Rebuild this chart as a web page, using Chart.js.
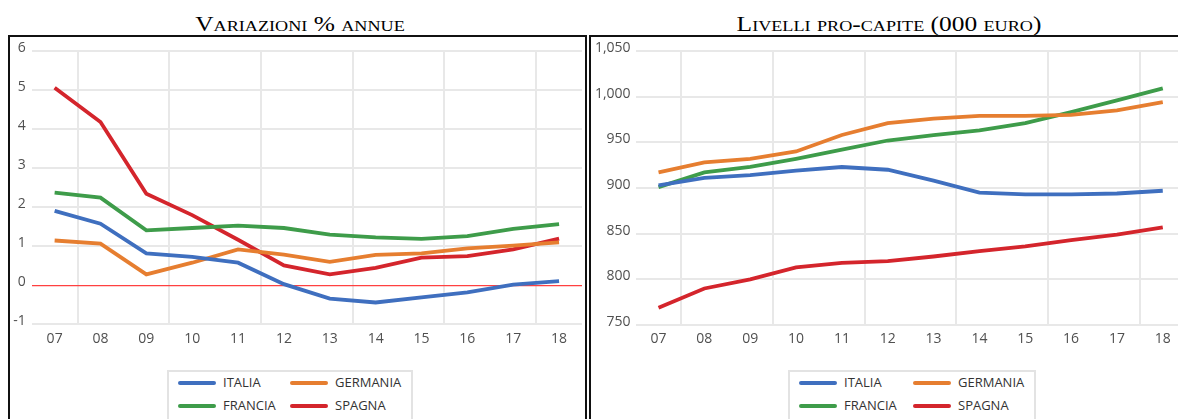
<!DOCTYPE html>
<html lang="it">
<head>
<meta charset="utf-8">
<title>Reddito disponibile: Italia, Germania, Francia, Spagna</title>
<script src="https://cdn.jsdelivr.net/npm/chart.js@4.4.1/dist/chart.umd.min.js"></script>
<style>
  html, body { margin: 0; padding: 0; background: #ffffff; overflow: hidden; width: 1178px; height: 419px; position: relative; }
  .titolo { position: absolute; top: 12px; font-family: "Liberation Serif", "Times New Roman", serif; font-variant: small-caps; font-size: 21px; color: #000; white-space: nowrap; transform: translateX(-50%) scaleX(1.21); }
  .pannello { position: absolute; top: 35px; border: 2px solid #111; box-sizing: border-box; }
  canvas { position: absolute; }
  .legenda { position: absolute; top: 370px; height: 60px; border: 2px solid #e3e3e3; box-sizing: border-box; background: #fff; }
  .voce { position: absolute; font-family: "Open Sans", sans-serif; font-size: 13px; color: #333; line-height: 14px; white-space: nowrap; }
  .campione { position: absolute; height: 4px; border-radius: 2px; }
</style>
</head>
<body>
<div class="titolo" style="left:300px">Variazioni % annue</div>
<div class="titolo" style="left:889px">Livelli pro-capite (000 euro)</div>
<div class="pannello" style="left:8px; width:579px; height:400px"></div>
<div class="pannello" style="left:589px; width:620px; height:400px"></div>
<canvas id="graficoVariazioni" width="574" height="382" style="left:10px; top:37px"></canvas>
<canvas id="graficoLivelli" width="620" height="382" style="left:591px; top:37px"></canvas>
<div id="legendaSinistra" class="legenda" style="left:167px; width:246px"></div>
<div id="legendaDestra" class="legenda" style="left:788px; width:248px"></div>

<script>
// Anni (2007-2018)
const anni = ['07', '08', '09', '10', '11', '12', '13', '14', '15', '16', '17', '18'];

const paesi = ['ITALIA', 'GERMANIA', 'FRANCIA', 'SPAGNA'];
const colori = ['#3f6fbf', '#e67e30', '#3e9c4a', '#d4252c'];

// Variazioni % annue
const variazioniItalia   = [1.91, 1.58, 0.82, 0.73, 0.58, 0.03, -0.34, -0.44, -0.31, -0.18, 0.02, 0.11];
const variazioniGermania = [1.15, 1.07, 0.28, 0.58, 0.92, 0.79, 0.60, 0.78, 0.82, 0.95, 1.02, 1.10];
const variazioniFrancia  = [2.38, 2.25, 1.41, 1.47, 1.53, 1.47, 1.30, 1.23, 1.19, 1.26, 1.45, 1.57];
const variazioniSpagna   = [5.07, 4.19, 2.35, 1.80, 1.17, 0.51, 0.28, 0.45, 0.71, 0.75, 0.92, 1.20];

// Livelli pro-capite (000 euro)
const livelliItalia   = [903, 911, 914, 919, 923, 920, 908, 895, 893, 893, 894, 897];
const livelliGermania = [917, 928, 932, 940, 958, 971, 976, 979, 979, 980, 985, 994];
const livelliFrancia  = [901, 917, 923, 932, 942, 952, 958, 963, 971, 983, 996, 1009];
const livelliSpagna   = [769, 790, 800, 813, 818, 820, 825, 831, 836, 843, 849, 857];

const fontTick = { family: '"Open Sans", sans-serif', size: 14 };
const coloreTick = '#505050';
const coloreGriglia = '#e8e8e8';

function serie(valori) {
  return valori.map((v, i) => ({
    label: paesi[i],
    data: v,
    borderColor: colori[i],
    backgroundColor: colori[i],
    borderWidth: 3.8,
    pointRadius: 0,
    pointHoverRadius: 0,
    tension: 0,
    fill: false
  }));
}

function creaGrafico(id, valori, asseY, larghezzaY, padding) {
  return new Chart(document.getElementById(id), {
    type: 'line',
    data: { labels: anni, datasets: serie(valori) },
    options: {
      responsive: false,
      animation: false,
      devicePixelRatio: 1,
      layout: { padding: padding },
      plugins: { legend: { display: false }, tooltip: { enabled: false } },
      scales: {
        x: {
          offset: true,
          grid: {
            offset: true,
            drawTicks: false,
            lineWidth: 2,
            // una linea verticale ogni due anni
            color: ctx => (ctx.index % 2 === 1 && ctx.index < anni.length) ? coloreGriglia : 'rgba(0,0,0,0)'
          },
          border: { display: false },
          ticks: { font: fontTick, color: coloreTick, padding: 6, maxRotation: 0, autoSkip: false },
          afterFit: s => { s.height = 40; }
        },
        y: Object.assign({
          grid: { drawTicks: false, lineWidth: 2, color: coloreGriglia },
          border: { display: false },
          afterFit: s => { s.width = larghezzaY; }
        }, asseY)
      }
    }
  });
}

creaGrafico('graficoVariazioni',
  [variazioniItalia, variazioniGermania, variazioniFrancia, variazioniSpagna],
  {
    min: -1, max: 6,
    grid: {
      drawTicks: false,
      lineWidth: ctx => ctx.tick && ctx.tick.value === 0 ? 1.3 : 2,
      color: ctx => ctx.tick && ctx.tick.value === 0 ? '#ff4040' : coloreGriglia
    },
    ticks: { stepSize: 1, font: fontTick, color: coloreTick, padding: 6, labelOffset: -3 }
  },
  21.7, { left: 0, right: 2, top: 14, bottom: 54.7 });

creaGrafico('graficoLivelli',
  [livelliItalia, livelliGermania, livelliFrancia, livelliSpagna],
  {
    min: 750, max: 1050,
    ticks: {
      stepSize: 50, font: fontTick, color: coloreTick, padding: 5, labelOffset: -3,
      callback: v => v.toLocaleString('en-US')
    }
  },
  44.6, { left: 0, right: 25.3, top: 14, bottom: 54 });

// Legende a due colonne
function legenda(id, col1, col2, sinistra) {
  const box = document.getElementById(id);
  const righe = [13, 35.7];
  paesi.forEach((nome, i) => {
    const r = Math.floor(i / 2), c = i % 2;
    const xLinea = (c === 0 ? col1 : col2) - sinistra;
    const campione = document.createElement('div');
    campione.className = 'campione';
    campione.style.cssText = `left:${xLinea - 2}px; top:${righe[r] - 2 - 2}px; width:38px; background:${colori[i]}`;
    box.appendChild(campione);
    const testo = document.createElement('div');
    testo.className = 'voce';
    testo.textContent = nome;
    testo.style.left = (xLinea - 2 + 45) + 'px';
    testo.style.top = (righe[r] - 2 - 8) + 'px';
    box.appendChild(testo);
  });
}
legenda('legendaSinistra', 178, 290, 167);
legenda('legendaDestra', 799, 913, 788);
</script>
</body>
</html>
